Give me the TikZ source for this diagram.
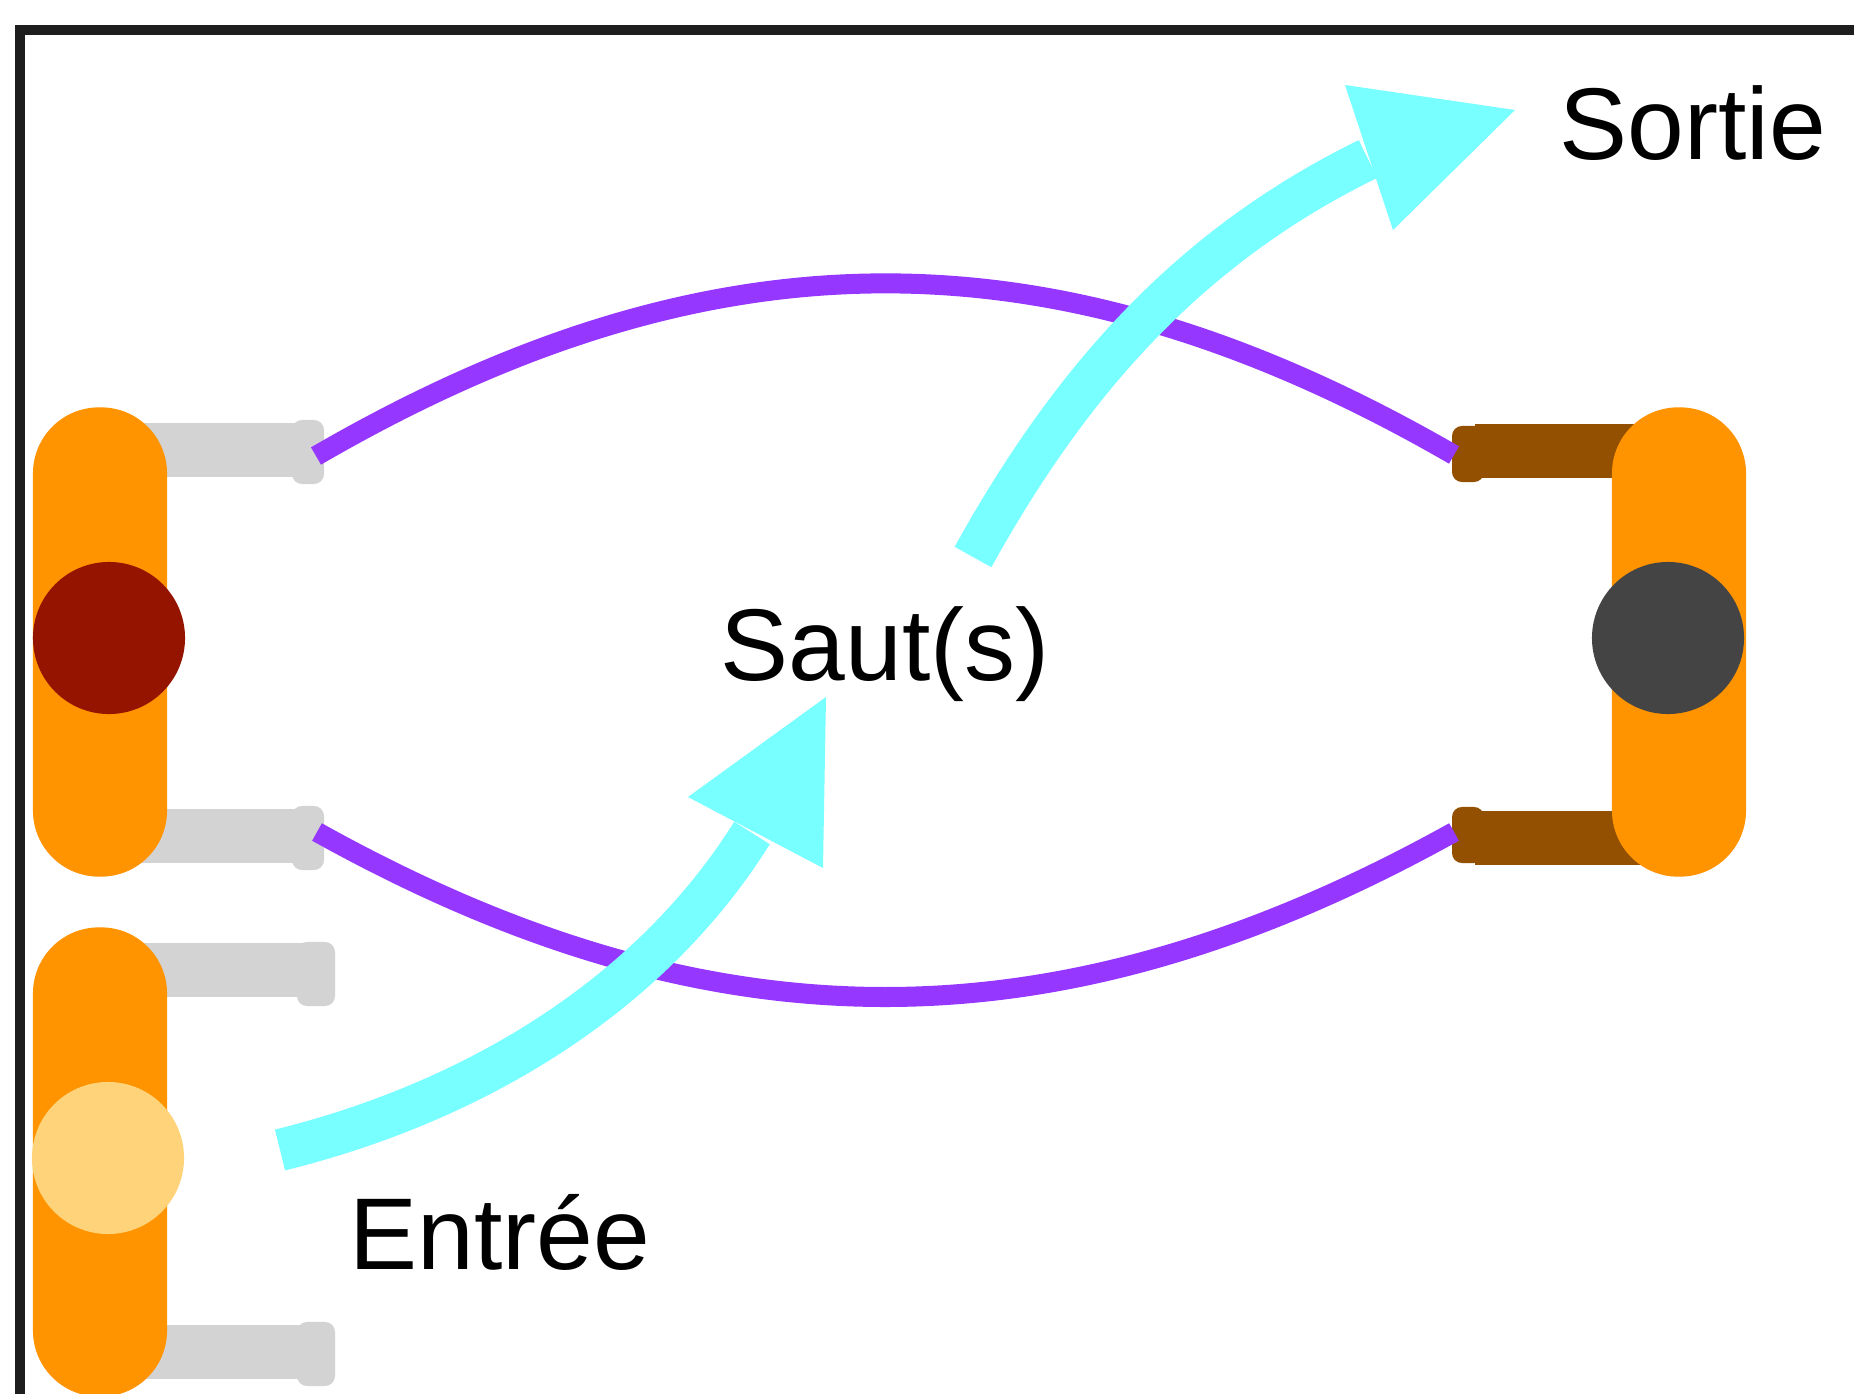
\documentclass[tikz,border=0pt]{standalone}
\usepackage{fontspec}
\setmainfont{Liberation Sans}
\definecolor{pillorange}{RGB}{255,147,0}
\definecolor{legGrey}{RGB}{211,211,211}
\definecolor{legBrown}{RGB}{147,80,0}
\definecolor{arcPurple}{RGB}{150,55,255}
\definecolor{jumpCyan}{RGB}{120,255,255}
\definecolor{dotRed}{RGB}{148,20,0}
\definecolor{dotGrey}{RGB}{68,68,68}
\definecolor{dotYellow}{RGB}{255,211,122}
\definecolor{frameBlack}{RGB}{30,30,30}
\begin{document}
\begin{tikzpicture}[x=0.01cm,y=-0.01cm,
  pill/.style={fill=pillorange, draw=none, rounded corners=0.66cm, minimum width=1.34cm, minimum height=4.69cm, inner sep=0pt},
  dot/.style={circle, draw=none, minimum size=1.52cm, inner sep=0pt},
  leg/.style={line width=0.54cm},
  knob/.style={rectangle, draw=none, rounded corners=0.1cm, minimum width=0.32cm, minimum height=0.64cm, inner sep=0pt},
  arcline/.style={draw=arcPurple, line width=0.2cm},
  jump/.style={draw=jumpCyan, line width=0.42cm},
  jumphead/.style={fill=jumpCyan},
  lbl/.style={font=\fontsize{29}{34}\selectfont, inner sep=0pt, anchor=base}]
\useasboundingbox (0,0) rectangle (1854,1394);
\clip (0,0) rectangle (1854,1394);
\fill[white] (0,0) rectangle (1854,1394);
% frame
\draw[line width=0.1cm, frameBlack] (20,30) rectangle (1950,1500);

% legs (behind pills)
\draw[leg, legGrey] (100,450) -- (300,450);
\node[knob, fill=legGrey] (kA1) at (308,452) {};
\draw[leg, legGrey] (100,836) -- (300,836);
\node[knob, fill=legGrey] (kA2) at (308,838) {};
\draw[leg, legGrey] (100,970) -- (310,970);
\node[knob, fill=legGrey, minimum width=0.38cm] (kB1) at (316,974) {};
\draw[leg, legGrey] (100,1352) -- (310,1352);
\node[knob, fill=legGrey, minimum width=0.38cm] (kB2) at (316,1354) {};
\draw[leg, legBrown] (1679,451) -- (1475,451);
\node[knob, fill=legBrown, minimum height=0.56cm] (kC1) at (1468,454) {};
\draw[leg, legBrown] (1679,838) -- (1475,838);
\node[knob, fill=legBrown, minimum height=0.56cm] (kC2) at (1468,835) {};

% pills and dots
\node[pill] (pA) at (100,642) {};
\node[pill] (pB) at (100,1162) {};
\node[pill] (pC) at (1679,642) {};
\node[dot, fill=dotRed] (dA) at (109,638) {};
\node[dot, fill=dotYellow] (dB) at (108,1158) {};
\node[dot, fill=dotGrey] (dC) at (1668,638) {};

% purple arcs
\coordinate (uL) at (316,456);
\coordinate (uR) at (1454,455);
\coordinate (lL) at (317,832);
\coordinate (lR) at (1454,832);
\draw[arcline] (uL) .. controls (712,226) and (1058,226) .. (uR);
\draw[arcline] (lL) .. controls (712,1052) and (1058,1052) .. (lR);

% cyan arrows
\coordinate (a1s) at (280,1150);
\coordinate (a1e) at (752,833);
\draw[jump] (a1s) .. controls (470,1103) and (648,999) .. (a1e);
\fill[jumphead] (826,697) -- (688,797) -- (823,868) -- cycle;
\coordinate (a2s) at (973,557);
\coordinate (a2e) at (1368,159);
\draw[jump] (a2s) .. controls (1070,382) and (1188,247) .. (a2e);
\fill[jumphead] (1515,110) -- (1345,85) -- (1393,230) -- cycle;

% labels
\node[lbl] (saut) at (885,680) {Saut(s)};
\node[lbl] (sortie) at (1693,160) {Sortie};
\node[lbl] (entree) at (500,1269) {Entrée};
\end{tikzpicture}
\end{document}
